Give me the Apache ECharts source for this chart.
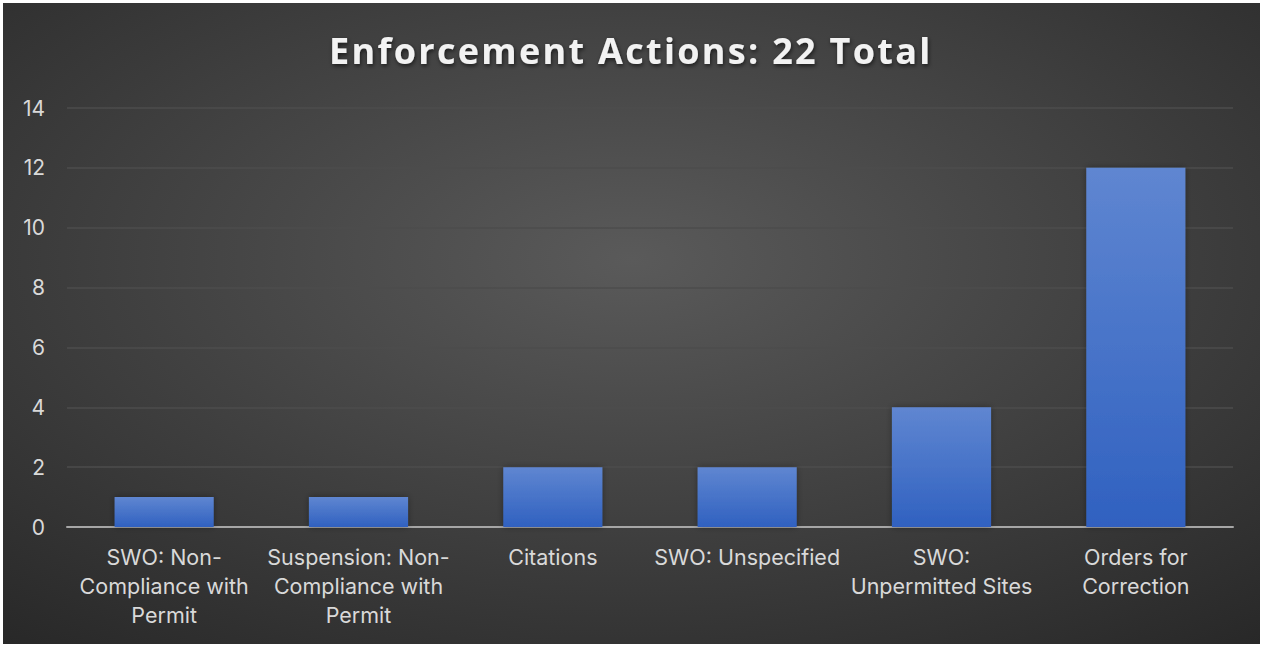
<!DOCTYPE html>
<html>
<head>
<meta charset="utf-8">
<script src="https://cdn.jsdelivr.net/npm/echarts@6/dist/echarts.min.js"></script>
<style>
  html, body { margin: 0; padding: 0; background: #ffffff; }
  #main { position: absolute; left: 3px; top: 3px; width: 1257px; height: 641px; }
  /* title letter spacing (svg renderer) */
  #main svg text[style*="36px"] { letter-spacing: 2.3px; }
</style>
</head>
<body>
<div id="main"></div>
<script>
var categories = [
  'SWO: Non-\nCompliance with\nPermit',
  'Suspension: Non-\nCompliance with\nPermit',
  'Citations',
  'SWO: Unspecified',
  'SWO:\nUnpermitted Sites',
  'Orders for\nCorrection'
];
var counts = [1, 1, 2, 2, 4, 12];
var yTicks = { min: 0, max: 14, step: 2 };

var chart = echarts.init(document.getElementById('main'), null, { renderer: 'svg' });
chart.setOption({
  backgroundColor: {
    type: 'radial', x: 0.5, y: 0.4, r: 0.78,
    colorStops: [
      { offset: 0, color: '#5a5a5a' },
      { offset: 1, color: '#282828' }
    ]
  },
  title: {
    text: 'Enforcement Actions: 22 Total',
    left: 321,
    top: 24,
    textStyle: {
      color: '#f2f2f2',
      fontFamily: 'Open Sans',
      fontWeight: 'bold',
      fontSize: 36,
      textShadowColor: 'rgba(0,0,0,0.6)',
      textShadowBlur: 4,
      textShadowOffsetX: 1,
      textShadowOffsetY: 2
    }
  },
  grid: { left: 64, right: 27, top: 105, bottom: 117 },
  xAxis: {
    type: 'category',
    data: categories,
    axisTick: { show: false },
    axisLine: { lineStyle: { color: '#a6a6a6', width: 2 } },
    axisLabel: {
      interval: 0,
      color: '#d9d9d9',
      fontFamily: 'Inter',
      fontSize: 21.5,
      lineHeight: 29,
      margin: 15
    }
  },
  yAxis: {
    type: 'value',
    min: yTicks.min,
    max: yTicks.max,
    interval: yTicks.step,
    axisLine: { show: false },
    axisTick: { show: false },
    splitLine: { lineStyle: { color: '#4c4c4c', width: 1.5 } },
    axisLabel: {
      color: '#d9d9d9',
      fontFamily: 'Inter',
      fontSize: 21,
      margin: 22
    }
  },
  series: [{
    type: 'bar',
    data: counts,
    barWidth: '51%',
    itemStyle: {
      color: {
        type: 'linear', x: 0, y: 0, x2: 0, y2: 1,
        colorStops: [
          { offset: 0, color: '#5f86d1' },
          { offset: 1, color: '#3061c0' }
        ]
      },
      shadowColor: 'rgba(0,0,0,0.35)',
      shadowBlur: 6
    }
  }]
});
</script>
</body>
</html>
